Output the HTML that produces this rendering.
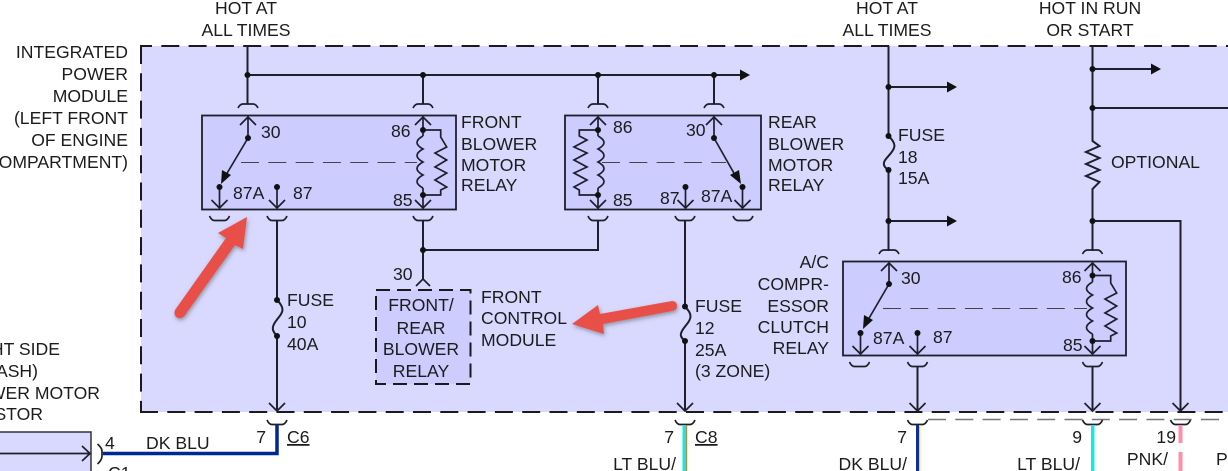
<!DOCTYPE html>
<html><head><meta charset="utf-8"><style>
html,body{margin:0;padding:0;background:#fff;width:1228px;height:471px;overflow:hidden}
svg{display:block}
text{font-family:"Liberation Sans",Arial,sans-serif;font-size:17.6px;fill:#1c1c1c}
.w{fill:none;stroke:#1f1f2b;stroke-width:2}
.t{fill:none;stroke:#1f1f2b;stroke-width:1.7}
.d{fill:none;stroke:#444;stroke-width:1.1;stroke-dasharray:18 9.300}
.e{text-anchor:end}.m{text-anchor:middle}
</style></head><body>
<svg width="1228" height="471" viewBox="0 0 1228 471" xmlns="http://www.w3.org/2000/svg">
<defs>
<g id="st"><path class="t" d="M-10 108 Q-8 104 -5 104 H5 Q8 104 10 108"/></g>
<g id="sb"><path class="t" d="M-10 0 Q-8 4.500 -5 4.500 H5 Q8 4.500 10 0"/></g>
<path id="cu" class="t" d="M-8 8 L0 0 L8 8"/>
<path id="cd" class="t" d="M-8 -8 L0 0 L8 -8"/>
<filter id="sh" x="-20%" y="-20%" width="140%" height="140%"><feDropShadow dx="1" dy="2" stdDeviation="2" flood-color="#555" flood-opacity=".55"/></filter>
</defs>

<!-- module -->
<rect x="141" y="46" width="1200" height="366" fill="#d9d9ff"/>
<g fill="none" stroke="#1a1a1a" stroke-width="2" stroke-dasharray="18 9.300">
<path d="M140 46H1228" stroke-dashoffset="6"/>
<path d="M141 46V412"/>
<path d="M140 412H1228"/>
</g>
<path d="M928 419.500H1228" fill="none" stroke="#777" stroke-width="1.600" stroke-dasharray="18 9.300"/>

<!-- relays -->
<rect x="202" y="115.500" width="254" height="94" fill="#ccccff" stroke="#1f1f2b" stroke-width="1.800"/>
<rect x="565" y="115.500" width="196" height="94" fill="#ccccff" stroke="#1f1f2b" stroke-width="1.800"/>
<rect x="843" y="261.500" width="283" height="94" fill="#ccccff" stroke="#1f1f2b" stroke-width="1.800"/>
<rect x="376" y="290" width="94.500" height="94" fill="#ccccff" stroke="#1a1a1a" stroke-width="2" stroke-dasharray="14 7"/>

<!-- top bus -->
<path class="w" d="M247.500 46V104M247 75H741M423 75V104M598 75V104M714 75V104"/>
<path d="M740 69.500L750 75L740 80.500Z" fill="#111"/>
<g fill="#111"><circle cx="247.500" cy="75" r="3"/><circle cx="423" cy="75" r="3"/><circle cx="598" cy="75" r="3"/><circle cx="714" cy="75" r="3"/></g>
<use href="#st" x="248"/><use href="#st" x="423"/><use href="#st" x="598"/><use href="#st" x="714"/>

<!-- relay 1 -->
<g>
<path class="t" d="M248 117V138"/><use href="#cu" x="248" y="117"/>
<path class="t" d="M248 138L226 175"/><path d="M221 184L222 170L231 175Z" fill="#111"/>
<path class="t" d="M219.500 187V208"/><use href="#cd" x="219.500" y="208"/>
<path class="t" d="M277 187V208"/><use href="#cd" x="277" y="208"/>
<path class="t" d="M423 117V136M423 188V208"/><use href="#cu" x="423" y="117"/><use href="#cd" x="423" y="208"/>
<path class="t" d="M423 136 q-12 6.500 0 13 q-12 6.500 0 13 q-12 6.500 0 13 q-12 6.500 0 13"/>
<path class="t" d="M423 130H440.700V137L446.700 147L435 153L446.700 160L435 167L446.700 173L435 180L446.700 187L440.700 190V195H423"/>
<path class="d" d="M241 162.500H417"/>
<g fill="#111"><circle cx="248" cy="138" r="3"/><circle cx="219.500" cy="187" r="3"/><circle cx="277" cy="187" r="3"/><circle cx="423" cy="130" r="3"/><circle cx="423" cy="195" r="3"/></g>
<text x="261" y="138">30</text><text x="233" y="199">87A</text><text x="293" y="199">87</text>
<text x="391" y="137">86</text><text x="393" y="206">85</text>
</g>

<!-- relay 2 -->
<g>
<path class="t" d="M714 117V138"/><use href="#cu" x="714" y="117"/>
<path class="t" d="M714 138L735 175"/><path d="M741 184L730 175L739 170Z" fill="#111"/>
<path class="t" d="M742.500 187V208"/><use href="#cd" x="742.500" y="208"/>
<path class="t" d="M685.500 187V208"/><use href="#cd" x="685.500" y="208"/>
<path class="t" d="M598 117V136M598 188V208"/><use href="#cu" x="598" y="117"/><use href="#cd" x="598" y="208"/>
<path class="t" d="M598 136 q12 6.500 0 13 q12 6.500 0 13 q12 6.500 0 13 q12 6.500 0 13"/>
<path class="t" d="M598 130H579.300V136L587 140L574 147L587 153L574 160L587 167L574 173L587 180L574 187L579.300 190V195H598"/>
<path class="d" d="M602 162.500H726"/>
<g fill="#111"><circle cx="714" cy="138" r="3"/><circle cx="742.500" cy="187" r="3"/><circle cx="685.500" cy="187" r="3"/><circle cx="598" cy="130" r="3"/><circle cx="598" cy="195" r="3"/></g>
<text x="613" y="133">86</text><text x="613" y="206">85</text><text x="686" y="136">30</text>
<text x="660" y="204">87</text><text x="701" y="202">87A</text>
</g>

<text x="461" y="128">FRONT</text><text x="461" y="150">BLOWER</text><text x="461" y="171">MOTOR</text><text x="461" y="191">RELAY</text>
<text x="768" y="128">REAR</text><text x="768" y="150">BLOWER</text><text x="768" y="171">MOTOR</text><text x="768" y="191">RELAY</text>

<!-- relay bottom sockets -->
<use href="#sb" x="219.500" y="216"/><use href="#sb" x="277" y="216"/><use href="#sb" x="423" y="216"/>
<use href="#sb" x="598" y="216"/><use href="#sb" x="685" y="216"/><use href="#sb" x="743" y="216"/>

<!-- middle wiring -->
<path class="w" d="M423 220V280M423 250H598V220"/>
<circle cx="423" cy="250" r="3" fill="#111"/>
<path class="t" d="M416 286L423 279L430 286"/>
<text x="393" y="280">30</text>
<text class="m" x="421" y="311">FRONT/</text><text class="m" x="421" y="334">REAR</text><text class="m" x="421" y="355">BLOWER</text><text class="m" x="421" y="377">RELAY</text>
<text x="481" y="303">FRONT</text><text x="481" y="324">CONTROL</text><text x="481" y="346">MODULE</text>

<!-- fuse 10 -->
<path class="w" d="M277 220V299M277 336V411"/>
<path class="w" d="M277 300C285 308 283 312 279 317C275 322 272 326 273 330C274 333 276 335 277 336"/>
<use href="#cd" x="277" y="411"/>
<circle cx="277" cy="300" r="3" fill="#111"/><circle cx="277" cy="336" r="3" fill="#111"/>
<text x="287" y="306">FUSE</text><text x="287" y="328">10</text><text x="287" y="350">40A</text>

<!-- fuse 12 -->
<path class="w" d="M685 220V306M685 341V411"/>
<path class="w" d="M685 307C693 314 691 319 687 324C683 329 680 333 681 336C682 339 684 340 685 341"/>
<use href="#cd" x="685" y="411"/>
<circle cx="685" cy="306.500" r="3" fill="#111"/><circle cx="685" cy="341" r="3" fill="#111"/>
<text x="695" y="312">FUSE</text><text x="695" y="334">12</text><text x="695" y="356">25A</text><text x="695" y="377">(3 ZONE)</text>

<!-- right verticals -->
<path class="w" d="M888.500 46V135M888.500 170V251"/>
<path class="w" d="M888.500 136C897 144 895 148 891 153C887 158 883 161 884 165C885 168 887 169 888.500 170"/>
<path class="w" d="M888.500 87H948M888.500 221H948"/>
<path d="M947 81.500L957 87L947 92.500Z M947 215.500L957 221L947 226.500Z" fill="#111"/>
<g fill="#111"><circle cx="888.500" cy="87" r="3"/><circle cx="888.500" cy="221" r="3"/><circle cx="888.500" cy="136" r="3"/><circle cx="888.500" cy="170" r="3"/></g>
<text x="898" y="141">FUSE</text><text x="898" y="163">18</text><text x="898" y="184">15A</text>

<path class="w" d="M1092.500 46V141L1099.500 146L1086 152L1099.500 158L1086 164L1099.500 170L1086 176L1099.500 182L1092.500 189V251"/>
<path class="w" d="M1092.500 69H1152M1092.500 108H1228M1092.500 221H1180.500V411"/>
<path d="M1151 63.500L1161 69L1151 74.500Z" fill="#111"/>
<g fill="#111"><circle cx="1092.500" cy="69" r="3"/><circle cx="1092.500" cy="108" r="3"/><circle cx="1092.500" cy="221" r="3"/></g>
<text x="1111" y="168">OPTIONAL</text>
<use href="#cd" x="1180.500" y="411"/>

<!-- relay 3 -->
<g transform="translate(0,146)">
<use href="#st" x="889"/><use href="#st" x="1092.500"/>
</g>
<g>
<path class="t" d="M889 263V284"/><use href="#cu" x="889" y="263"/>
<path class="t" d="M889 284L868 320"/><path d="M863 329L864 315L873 320Z" fill="#111"/>
<path class="t" d="M860.500 333V354"/><use href="#cd" x="860.500" y="354"/>
<path class="t" d="M917.500 333V354"/><use href="#cd" x="917.500" y="354"/>
<path class="t" d="M1092.500 263V282M1092.500 334V354"/><use href="#cu" x="1092.500" y="263"/><use href="#cd" x="1092.500" y="354"/>
<path class="t" d="M1092.500 282 q-12 6.500 0 13 q-12 6.500 0 13 q-12 6.500 0 13 q-12 6.500 0 13"/>
<path class="t" d="M1092.500 275.500H1110.700V283L1116.700 293L1105 299L1116.700 306L1105 313L1116.700 319L1105 326L1116.700 333L1110.700 336V341H1092.500"/>
<path class="d" d="M883 308.500H1087"/>
<g fill="#111"><circle cx="889" cy="284" r="3"/><circle cx="860.500" cy="333" r="3"/><circle cx="917.500" cy="333" r="3"/><circle cx="1092.500" cy="275.500" r="3"/><circle cx="1092.500" cy="341" r="3"/></g>
<text x="901" y="284">30</text><text x="873" y="344">87A</text><text x="933" y="343">87</text>
<text x="1062" y="283">86</text><text x="1063" y="351">85</text>
</g>
<use href="#sb" x="859.500" y="362"/><use href="#sb" x="917.500" y="362"/><use href="#sb" x="1092.500" y="362"/>
<path class="w" d="M917.500 366V411M1092.500 366V411"/>
<use href="#cd" x="917.500" y="411"/><use href="#cd" x="1092.500" y="411"/>
<text class="e" x="829" y="268">A/C</text><text class="e" x="829" y="290">COMPR-</text><text class="e" x="829" y="312">ESSOR</text><text class="e" x="829" y="333">CLUTCH</text><text class="e" x="829" y="354">RELAY</text>

<!-- headers -->
<text class="m" x="246" y="14">HOT AT</text><text class="m" x="246" y="36">ALL TIMES</text>
<text class="m" x="887" y="14">HOT AT</text><text class="m" x="887" y="36">ALL TIMES</text>
<text class="m" x="1090" y="14">HOT IN RUN</text><text class="m" x="1090" y="36">OR START</text>
<text class="e" x="128" y="58">INTEGRATED</text><text class="e" x="128" y="80">POWER</text><text class="e" x="128" y="102">MODULE</text><text class="e" x="128" y="124">(LEFT FRONT</text><text class="e" x="128" y="146">OF ENGINE</text><text class="e" x="128" y="168">COMPARTMENT)</text>
<text class="e" x="60" y="355">RIGHT SIDE</text><text class="e" x="38" y="377">(DASH)</text><text class="e" x="100" y="399">BLOWER MOTOR</text><text class="e" x="43" y="420">RESISTOR</text>

<!-- bottom sockets -->
<use href="#sb" x="277" y="420"/><use href="#sb" x="685" y="420"/><use href="#sb" x="917.500" y="420"/><use href="#sb" x="1092.500" y="420"/><use href="#sb" x="1180.500" y="420"/>

<!-- bottom wires -->
<path d="M277 425V453.500H103" fill="none" stroke="#00268f" stroke-width="3.500"/>
<rect x="682.500" y="425" width="3.500" height="46" fill="#19e6e6"/><rect x="686" y="425" width="1.200" height="46" fill="#b58a3c"/>
<rect x="916" y="425" width="3.200" height="46" fill="#10308f"/><rect x="919.200" y="425" width="1.200" height="46" fill="#f0e04a"/>
<rect x="1091" y="425" width="3.500" height="46" fill="#19e6e6"/>
<rect x="1178.500" y="425" width="4" height="18" fill="#ff8fa8"/><rect x="1178.500" y="452" width="4" height="19" fill="#ff8fa8"/>

<!-- lower left connector -->
<rect x="-10" y="432" width="101" height="60" fill="#d9d9ff" stroke="#333" stroke-width="1.500"/>
<path class="t" d="M0 453.500H90M82 446L90 453.500L82 461"/>
<path class="t" d="M97.500 444Q102 448 102 451V456Q102 460 97.500 464"/>

<text x="105" y="449">4</text><text x="146" y="449">DK BLU</text><text class="e" x="266" y="443">7</text>
<text x="287" y="443" text-decoration="underline">C6</text><text x="108" y="479">C1</text>
<text class="e" x="674" y="443">7</text><text x="695" y="443" text-decoration="underline">C8</text><text class="e" x="676" y="470">LT BLU/</text>
<text class="e" x="907" y="443">7</text><text class="e" x="907" y="470">DK BLU/</text>
<text class="e" x="1082" y="443">9</text><text class="e" x="1080" y="470">LT BLU/</text>
<text class="e" x="1176" y="443">19</text><text class="e" x="1168" y="465">PNK/</text><text x="1216" y="465">PNK/</text>

<!-- red arrows -->
<g fill="#e9504a" filter="url(#sh)">
<path d="M247 217L218 233L226 238L175 310Q173 316 178 318Q182 319 185 315L235 245L243 249Z"/>
<path d="M572 324L598 305L600 314L672 301Q677 301 677 306Q677 310 672 311L603 324L604 334Z"/>
</g>
</svg>
</body></html>
